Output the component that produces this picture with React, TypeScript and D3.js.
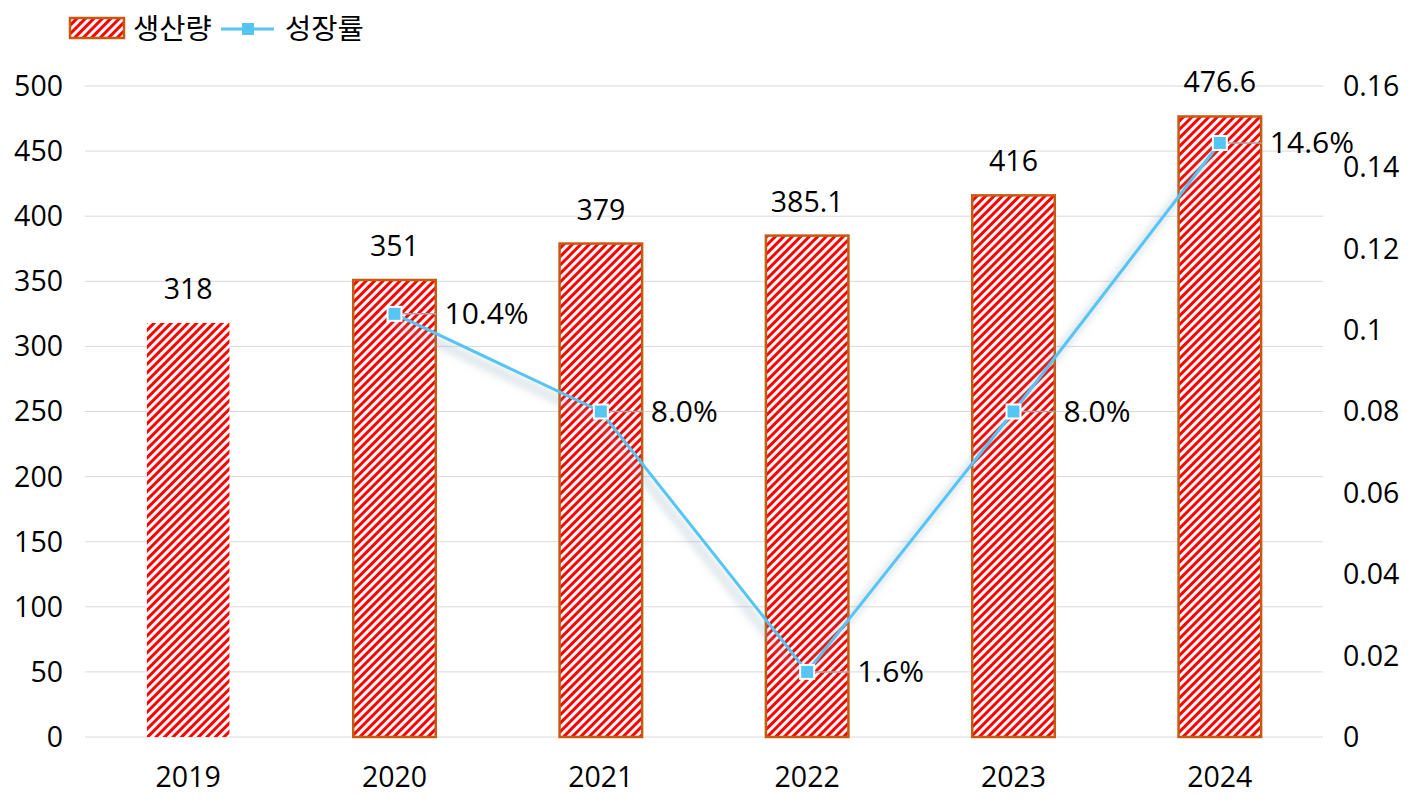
import React, { useEffect, useRef } from 'react';
import * as d3 from 'd3';

const years = ['2019', '2020', '2021', '2022', '2023', '2024'];
const production = [318, 351, 379, 385.1, 416, 476.6];
const growth: (number | null)[] = [null, 0.104, 0.08, 0.016, 0.08, 0.146];
const leftTicks = [0, 50, 100, 150, 200, 250, 300, 350, 400, 450, 500];
const rightTicks = [0, 0.02, 0.04, 0.06, 0.08, 0.1, 0.12, 0.14, 0.16];

const FONT = '"Open Sans", "Noto Sans CJK KR", sans-serif';
const FS = 28.5;
const BLUE = '#55C5F4';
const BORDER = '#C55A11';

const App: React.FC = () => {
  const svgRef = useRef() as React.MutableRefObject<SVGSVGElement>;

  useEffect(() => {
    const W = 1414, H = 807;
    const svg = d3.select(svgRef.current).attr('width', W).attr('height', H);
    svg.html('');

    const defs = svg.append('defs');
    const pat = defs.append('pattern')
      .attr('id', 'stripes')
      .attr('patternUnits', 'userSpaceOnUse')
      .attr('width', 6).attr('height', 6)
      .attr('patternTransform', 'rotate(45)');
    pat.append('rect').attr('width', 6).attr('height', 6).attr('fill', '#fff');
    pat.append('rect').attr('width', 3).attr('height', 6).attr('fill', '#FF0000');

    // soft shadow under the growth line
    const f = defs.append('filter').attr('id', 'shadow')
      .attr('x', '-20%').attr('y', '-20%').attr('width', '140%').attr('height', '140%');
    f.append('feGaussianBlur').attr('in', 'SourceAlpha').attr('stdDeviation', 5);
    f.append('feOffset').attr('dx', -5).attr('dy', 6).attr('result', 'b');
    f.append('feFlood').attr('flood-color', '#7f9fb0').attr('flood-opacity', 0.8);
    f.append('feComposite').attr('in2', 'b').attr('operator', 'in');
    const m = f.append('feMerge');
    m.append('feMergeNode');
    m.append('feMergeNode').attr('in', 'SourceGraphic');

    const x = d3.scaleBand().domain(years).range([85, 1323]).paddingInner(0.6).paddingOuter(0.3);
    const yL = d3.scaleLinear().domain([0, 500]).range([737, 86]);
    const yR = d3.scaleLinear().domain([0, 0.16]).range([737, 86]);

    // gridlines
    svg.append('g').selectAll('line').data(leftTicks).join('line')
      .attr('x1', 85).attr('x2', 1323)
      .attr('y1', d => yL(d)).attr('y2', d => yL(d))
      .attr('stroke', '#D9D9D9').attr('stroke-width', 1);

    // left axis labels
    svg.append('g').selectAll('text').data(leftTicks).join('text')
      .attr('x', 63).attr('y', d => yL(d)).attr('dy', '0.35em')
      .attr('text-anchor', 'end').attr('font-family', FONT).attr('font-size', FS)
      .attr('fill', '#000').text(d => d);

    // right axis labels
    svg.append('g').selectAll('text').data(rightTicks).join('text')
      .attr('x', 1343).attr('y', d => yR(d)).attr('dy', '0.35em')
      .attr('text-anchor', 'start').attr('font-family', FONT).attr('font-size', FS)
      .attr('fill', '#000').text(d => d3.format('~g')(d));

    // x labels
    svg.append('g').selectAll('text').data(years).join('text')
      .attr('x', d => x(d)! + x.bandwidth() / 2).attr('y', 777).attr('dy', '0.35em')
      .attr('text-anchor', 'middle').attr('font-family', FONT).attr('font-size', FS)
      .attr('fill', '#000').text(d => d);

    // bars
    const bw = x.bandwidth();
    svg.append('g').selectAll('rect').data(production).join('rect')
      .attr('x', (d, i) => x(years[i])!)
      .attr('y', d => yL(d))
      .attr('width', bw)
      .attr('height', d => yL(0) - yL(d))
      .attr('fill', 'url(#stripes)')
      .attr('stroke', (d, i) => (i === 0 ? 'none' : BORDER))
      .attr('stroke-width', 2.5);

    // bar labels
    svg.append('g').selectAll('text').data(production).join('text')
      .attr('x', (d, i) => x(years[i])! + bw / 2)
      .attr('y', d => yL(d) - 34).attr('dy', '0.35em')
      .attr('text-anchor', 'middle').attr('font-family', FONT).attr('font-size', FS)
      .attr('fill', '#000').text(d => d);

    // growth line
    const pts = growth
      .map((g, i) => ({ g, cx: x(years[i])! + bw / 2 }))
      .filter(p => p.g !== null) as { g: number; cx: number }[];

    const line = d3.line<{ g: number; cx: number }>().x(p => p.cx).y(p => yR(p.g));
    svg.append('path').datum(pts)
      .attr('d', line)
      .attr('fill', 'none').attr('stroke', BLUE).attr('stroke-width', 3)
      .attr('filter', 'url(#shadow)');

    // leader lines
    svg.append('g').selectAll('line').data(pts).join('line')
      .attr('x1', p => p.cx).attr('x2', p => p.cx + 42)
      .attr('y1', p => yR(p.g)).attr('y2', p => yR(p.g))
      .attr('stroke', '#A6A6A6').attr('stroke-width', 1.5);

    // markers
    svg.append('g').selectAll('rect').data(pts).join('rect')
      .attr('x', p => p.cx - 7).attr('y', p => yR(p.g) - 7)
      .attr('width', 14).attr('height', 14)
      .attr('fill', BLUE).attr('stroke', '#fff').attr('stroke-width', 2);

    // growth labels
    svg.append('g').selectAll('text').data(pts).join('text')
      .attr('x', p => p.cx + 50).attr('y', p => yR(p.g)).attr('dy', '0.35em')
      .attr('text-anchor', 'start').attr('font-family', FONT).attr('font-size', 30)
      .attr('fill', '#000').text(p => d3.format('.1%')(p.g));

    // legend
    const lg = svg.append('g');
    lg.append('rect').attr('x', 70).attr('y', 18).attr('width', 54).attr('height', 20)
      .attr('fill', 'url(#stripes)').attr('stroke', BORDER).attr('stroke-width', 2.5);
    lg.append('text').attr('x', 133).attr('y', 29).attr('dy', '0.35em')
      .attr('font-family', FONT).attr('font-size', FS).attr('fill', '#000').text('생산량');
    lg.append('line').attr('x1', 221).attr('x2', 274).attr('y1', 29).attr('y2', 29)
      .attr('stroke', BLUE).attr('stroke-width', 3);
    lg.append('rect').attr('x', 242).attr('y', 23).attr('width', 12).attr('height', 12)
      .attr('fill', BLUE);
    lg.append('text').attr('x', 285).attr('y', 29).attr('dy', '0.35em')
      .attr('font-family', FONT).attr('font-size', FS).attr('fill', '#000').text('성장률');
  }, []);

  return <svg ref={svgRef} style={{ display: 'block', position: 'absolute', left: 0, top: 0 }} />;
};

export default App;
